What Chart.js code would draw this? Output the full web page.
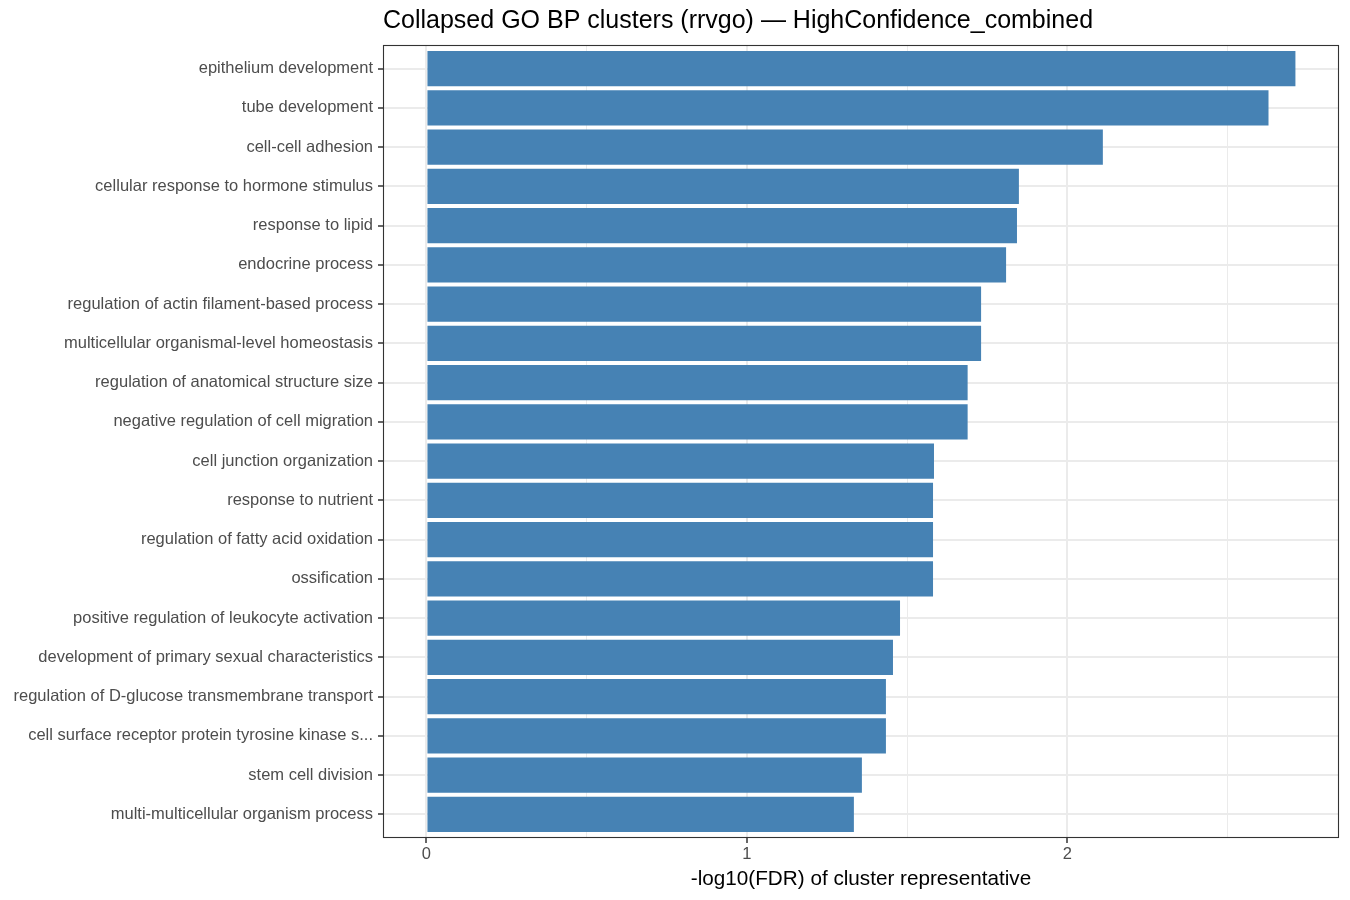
<!DOCTYPE html>
<html>
<head>
<meta charset="utf-8">
<script src="https://cdn.jsdelivr.net/npm/chart.js@4.4.1/dist/chart.umd.min.js"></script>
<style>
  html, body { margin: 0; padding: 0; background: #ffffff; }
  #wrap { width: 1350px; height: 900px; position: relative; }
</style>
</head>
<body>
<div id="wrap"><canvas id="c" width="1350" height="900"></canvas></div>
<script>
const categories = [
  "epithelium development",
  "tube development",
  "cell-cell adhesion",
  "cellular response to hormone stimulus",
  "response to lipid",
  "endocrine process",
  "regulation of actin filament-based process",
  "multicellular organismal-level homeostasis",
  "regulation of anatomical structure size",
  "negative regulation of cell migration",
  "cell junction organization",
  "response to nutrient",
  "regulation of fatty acid oxidation",
  "ossification",
  "positive regulation of leukocyte activation",
  "development of primary sexual characteristics",
  "regulation of D-glucose transmembrane transport",
  "cell surface receptor protein tyrosine kinase s...",
  "stem cell division",
  "multi-multicellular organism process"
];
const values = [
  2.712, 2.628, 2.111, 1.849, 1.843, 1.809, 1.731, 1.731, 1.689, 1.689,
  1.584, 1.581, 1.581, 1.581, 1.478, 1.456, 1.434, 1.434, 1.359, 1.334
];
const xTickValues = [0, 0.5, 1, 1.5, 2, 2.5];
const xMin = -0.1356;
const xMax = 2.848;
const titleText = "Collapsed GO BP clusters (rrvgo) \u2014 HighConfidence_combined";
const xTitleText = "-log10(FDR) of cluster representative";

const FONT = "'Liberation Sans', Arial, Helvetica, sans-serif";

const panelBorder = {
  id: 'panelBorder',
  afterDraw(chart) {
    const {ctx, chartArea: a} = chart;
    ctx.save();
    ctx.strokeStyle = '#333333';
    ctx.lineWidth = 1.1;
    ctx.strokeRect(a.left + 0.5, a.top + 0.5, a.right - a.left - 1, a.bottom - a.top - 1);
    ctx.restore();
  }
};

new Chart(document.getElementById('c'), {
  type: 'bar',
  data: {
    datasets: [{
      data: values.map((v, i) => ({x: v, y: i})),
      backgroundColor: '#4682B4',
      borderWidth: 0,
      barPercentage: 0.9,
      categoryPercentage: 1.0
    }]
  },
  options: {
    indexAxis: 'y',
    responsive: false,
    animation: false,
    devicePixelRatio: 1,
    layout: { padding: { left: 0, right: 11, top: 0, bottom: 0 } },
    plugins: {
      legend: { display: false },
      tooltip: { enabled: false },
      title: {
        display: true,
        text: titleText,
        align: 'start',
        fullSize: false,
        color: '#000000',
        font: { family: FONT, size: 25, weight: 'normal', lineHeight: 1.2 },
        padding: { top: 6, bottom: 9 }
      }
    },
    scales: {
      x: {
        type: 'linear',
        position: 'bottom',
        min: xMin,
        max: xMax,
        offset: false,
        afterBuildTicks(scale) { scale.ticks = xTickValues.map(v => ({value: v})); },
        afterFit(scale) { scale.height = 62; },
        ticks: {
          color: '#4D4D4D',
          font: { family: FONT, size: 16.5 },
          padding: 2,
          maxRotation: 0,
          autoSkip: false,
          callback: (v) => Number.isInteger(v) ? String(v) : ''
        },
        grid: {
          offset: false,
          color: '#EBEBEB',
          lineWidth: (c) => (c.tick && Number.isInteger(c.tick.value)) ? 2 : 1,
          drawTicks: true,
          tickLength: 5,
          tickWidth: 1.5,
          tickColor: (c) => (c.tick && Number.isInteger(c.tick.value)) ? '#333333' : 'rgba(0,0,0,0)'
        },
        border: { display: false },
        title: {
          display: true,
          text: xTitleText,
          color: '#000000',
          font: { family: FONT, size: 20.7, lineHeight: 1.2 },
          padding: { top: 0, bottom: 8 }
        }
      },
      y: {
        type: 'linear',
        reverse: true,
        offset: false,
        min: -0.6,
        max: categories.length - 1 + 0.6,
        afterBuildTicks(scale) { scale.ticks = categories.map((_, i) => ({value: i})); },
        afterFit(scale) { scale.width = 383; },
        ticks: {
          color: '#4D4D4D',
          font: { family: FONT, size: 16.5 },
          padding: 5,
          autoSkip: false,
          callback: (v) => categories[v]
        },
        grid: {
          offset: false,
          color: '#EBEBEB',
          lineWidth: 2,
          drawTicks: true,
          tickLength: 5,
          tickWidth: 1.5,
          tickColor: '#333333'
        },
        border: { display: false }
      }
    }
  },
  plugins: [panelBorder]
});
</script>
</body>
</html>
